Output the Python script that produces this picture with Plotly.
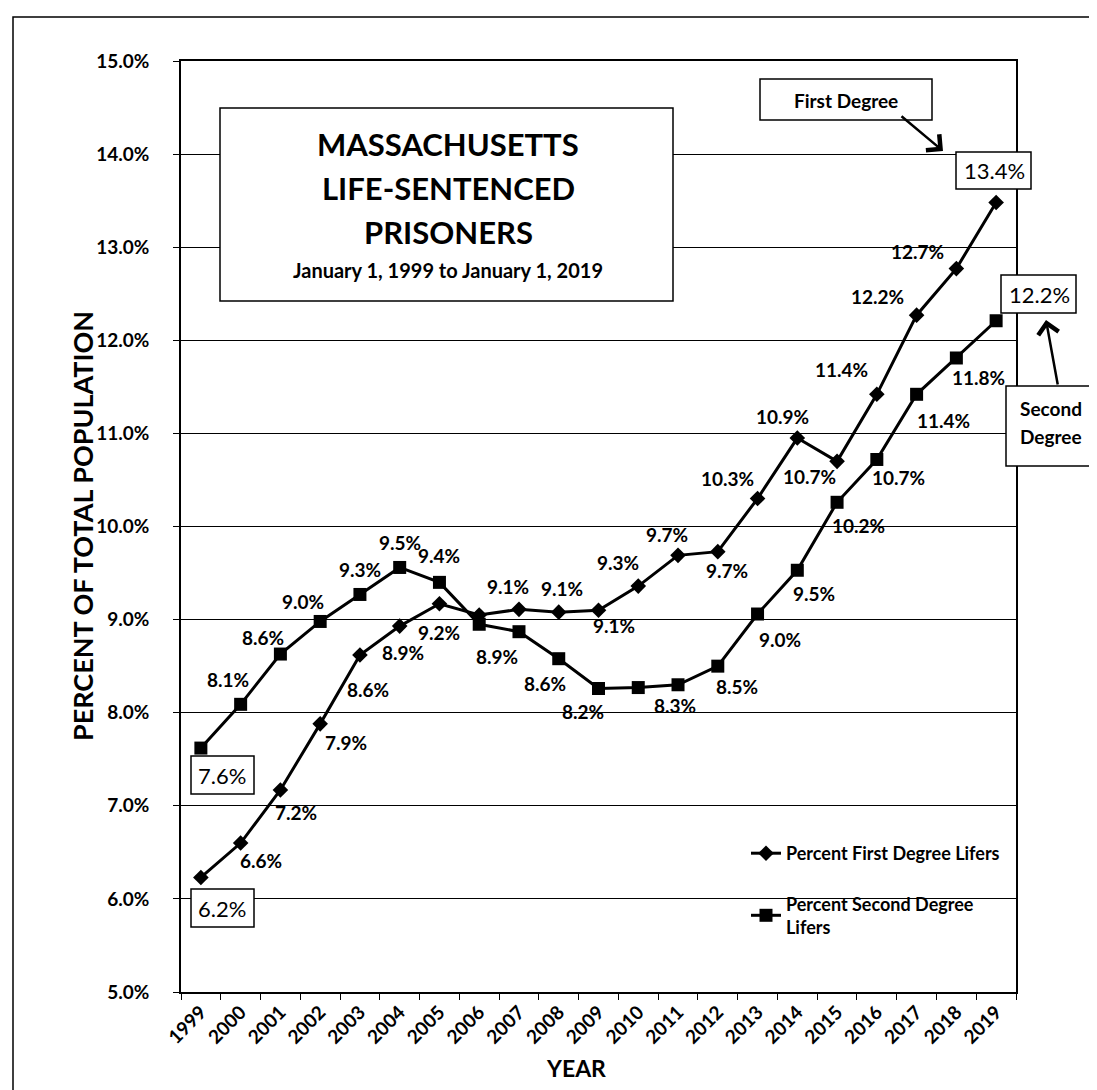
import plotly.graph_objects as go

years = [str(y) for y in range(1999, 2020)]

first_degree = [6.23, 6.60, 7.17, 7.88, 8.62, 8.93, 9.17, 9.05, 9.11, 9.08, 9.10,
                9.36, 9.69, 9.73, 10.30, 10.95, 10.70, 11.42, 12.27, 12.77, 13.48]
second_degree = [7.62, 8.09, 8.63, 8.98, 9.27, 9.56, 9.40, 8.95, 8.87, 8.58, 8.26,
                 8.27, 8.30, 8.50, 9.06, 9.53, 10.26, 10.72, 11.42, 11.81, 12.21]

first_labels = ["6.2%", "6.6%", "7.2%", "7.9%", "8.6%", "8.9%", "9.2%", "", "9.1%", "9.1%", "9.1%",
                "9.3%", "9.7%", "9.7%", "10.3%", "10.9%", "10.7%", "11.4%", "12.2%", "12.7%", "13.4%"]
second_labels = ["7.6%", "8.1%", "8.6%", "9.0%", "9.3%", "9.5%", "9.4%", "", "8.9%", "8.6%", "8.2%",
                 "", "8.3%", "8.5%", "9.0%", "9.5%", "10.2%", "10.7%", "11.4%", "11.8%", "12.2%"]

# label offsets in pixels (dx right, dy down) relative to the marker
first_off = [None, (20, 17), (16, 23), (26, 19), (8, 35), (3, 26), (0, 29), None, (-11, -23), (3, -24),
             (15, 15), (-20, -24), (-11, -21), (9, 19), (-30, -20), (-15, -22), (-28, 15), (-35, -25),
             (-39, -19), (-39, -17), None]
second_off = [None, (-13, -25), (-17, -17), (-17, -20), (0, -25), (0, -25), (0, -27), None, (-22, 25),
              (-14, 25), (-16, 23), None, (-3, 21), (19, 20), (22, 25), (17, 23), (21, 23), (22, 18),
              (27, 26), (22, 20), None]

FONT = "Lato"
W, H = 1097, 1090
L, R, T, B = 173, 1008, 53, 984


def px(x):
    return (x - L) / (R - L)


def py(y):
    return (B - y) / (B - T)


fig = go.Figure()

fig.add_trace(go.Scatter(
    x=years, y=first_degree, mode='lines+markers',
    name='<b>Percent First Degree Lifers</b>', legendgroup='a',
    line=dict(color='black', width=3),
    marker=dict(symbol='diamond', size=12, color='black')
))
fig.add_trace(go.Scatter(
    x=years, y=second_degree, mode='lines+markers',
    name='<b>Percent Second Degree<br>Lifers</b>', legendgroup='b',
    line=dict(color='black', width=3),
    marker=dict(symbol='square', size=13, color='black')
))

annotations = []
for series, labels, offs in [(first_degree, first_labels, first_off),
                             (second_degree, second_labels, second_off)]:
    for i, (val, lab, off) in enumerate(zip(series, labels, offs)):
        if off is None or not lab:
            continue
        annotations.append(dict(
            x=i, y=val, xref='x', yref='y', text='<b>' + lab + '</b>',
            showarrow=False, xshift=off[0], yshift=-off[1],
            xanchor='center', yanchor='middle',
            font=dict(family=FONT, size=19, color='black')
        ))

shapes = []


def box(x0, y0, x1, y1):
    shapes.append(dict(type='rect', xref='paper', yref='paper',
                       x0=px(x0), x1=px(x1), y0=py(y1), y1=py(y0),
                       line=dict(color='black', width=1.5), fillcolor='white', layer='above'))


def text(x, y, s, size, bold=True, angle=0):
    annotations.append(dict(
        x=px(x), y=py(y), xref='paper', yref='paper', showarrow=False,
        text=('<b>' + s + '</b>') if bold else s, textangle=angle,
        xanchor='center', yanchor='middle',
        font=dict(family=FONT, size=size, color='black')
    ))


# outer frame
shapes.append(dict(type='rect', xref='paper', yref='paper',
                   x0=px(5), x1=px(1110), y0=py(1087), y1=py(9),
                   line=dict(color='black', width=1.5), layer='below'))

# title box
box(212, 100, 665, 293)
text(440, 136, 'MASSACHUSETTS', 31)
text(440, 180, 'LIFE-SENTENCED', 31)
text(440, 224, 'PRISONERS', 31)
text(440, 262, 'January 1, 1999 to January 1, 2019', 20)

# callout boxes
box(752, 71, 924, 112)
text(838, 92, 'First Degree', 19)
box(948, 144, 1023, 181)
text(986, 163, first_labels[-1], 22, bold=False)
box(993, 267, 1068, 305)
text(1031, 286, second_labels[-1], 22, bold=False)
box(998, 378, 1110, 458)
text(1043, 401, 'Second', 19)
text(1043, 429, 'Degree', 19)
box(183, 748, 246, 786)
text(214, 767, second_labels[0], 22, bold=False)
box(183, 881, 246, 919)
text(214, 900, first_labels[0], 22, bold=False)

# arrows
annotations.append(dict(x=px(935), y=py(143), xref='paper', yref='paper', text='',
                        showarrow=True, ax=-43, ay=-36, arrowhead=4, arrowsize=1.6,
                        arrowwidth=2.5, arrowcolor='black'))
annotations.append(dict(x=px(1038), y=py(312), xref='paper', yref='paper', text='',
                        showarrow=True, ax=12, ay=66, arrowhead=4, arrowsize=1.6,
                        arrowwidth=2.5, arrowcolor='black'))

# axis titles
text(74, 518, 'PERCENT OF TOTAL POPULATION', 27, angle=-90)
text(568, 1060, 'YEAR', 23)

fig.update_layout(
    width=W, height=H,
    margin=dict(l=L, r=W - R, t=T, b=H - B),
    plot_bgcolor='white', paper_bgcolor='white',
    font=dict(family=FONT, color='black'),
    showlegend=True,
    legend=dict(x=px(738), y=py(827), xanchor='left', yanchor='top',
                bgcolor='rgba(0,0,0,0)', tracegroupgap=24,
                font=dict(family=FONT, size=18, color='black')),
    annotations=annotations,
    shapes=shapes,
)

fig.update_xaxes(
    type='category', range=[-0.5, 20.5],
    showgrid=False, showline=True, linecolor='black', linewidth=1.5, mirror=True,
    ticks='outside', tickson='boundaries', ticklen=6, tickcolor='black',
    tickangle=-45, tickfont=dict(family=FONT, size=19, color='black'),
    tickprefix='<b>', ticksuffix='</b>'
)
fig.update_yaxes(
    range=[5, 15], dtick=1, tickformat='.1f', ticksuffix='%',
    showgrid=True, gridcolor='black', gridwidth=1,
    showline=True, linecolor='black', linewidth=1.5, mirror=True,
    ticks='outside', ticklen=6, tickcolor='black', ticklabelstandoff=20,
    tickfont=dict(family=FONT, size=19, color='black', weight='bold'),
    zeroline=False
)

fig.write_html("out.html")
